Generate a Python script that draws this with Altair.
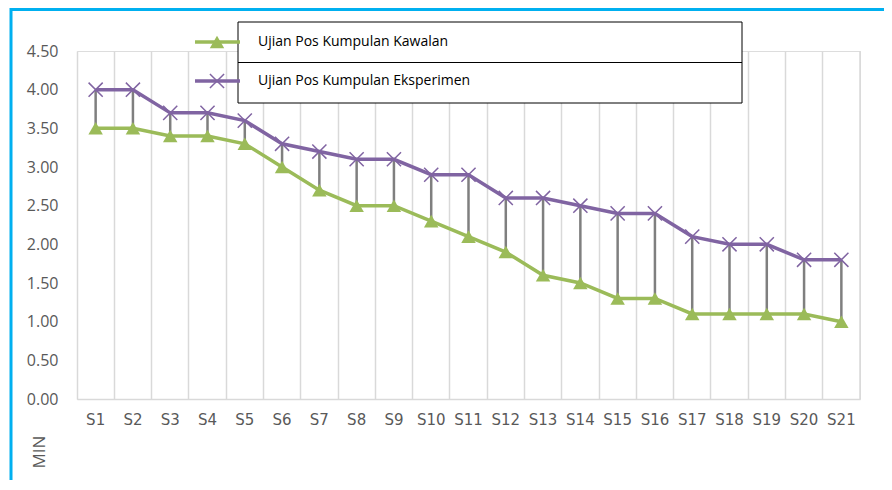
import altair as alt
import pandas as pd

students = [f"S{i}" for i in range(1, 22)]
kawalan = [3.5, 3.5, 3.4, 3.4, 3.3, 3.0, 2.7, 2.5, 2.5, 2.3, 2.1, 1.9, 1.6, 1.5, 1.3, 1.3, 1.1, 1.1, 1.1, 1.1, 1.0]
eksperimen = [4.0, 4.0, 3.7, 3.7, 3.6, 3.3, 3.2, 3.1, 3.1, 2.9, 2.9, 2.6, 2.6, 2.5, 2.4, 2.4, 2.1, 2.0, 2.0, 1.8, 1.8]
series_names = ["Ujian Pos Kumpulan Kawalan", "Ujian Pos Kumpulan Eksperimen"]
y_ticks = [0, 0.5, 1.0, 1.5, 2.0, 2.5, 3.0, 3.5, 4.0, 4.5]

GREEN = "#9BBB59"
PURPLE = "#8064A2"
GREY_TXT = "#595959"
XPATH = "M-1,-1L1,1M1,-1L-1,1"

W, H = 783, 348

wide = pd.DataFrame({"s": students, "k": kawalan, "e": eksperimen})
long = pd.concat([
    pd.DataFrame({"s": students, "v": kawalan, "series": series_names[0]}),
    pd.DataFrame({"s": students, "v": eksperimen, "series": series_names[1]}),
])

XAX = alt.Axis(labelAngle=0, grid=True, bandPosition=0, gridColor="#D9D9D9",
               gridWidth=1.5, ticks=False, tickSize=0, domainColor="#D9D9D9",
               domainWidth=1.5, labelColor=GREY_TXT, labelFont="DejaVu Sans",
               labelFontSize=15, labelPadding=13, labelOverlap=False)
XSC = alt.Scale(type="band", paddingInner=0, paddingOuter=0)
YSC = alt.Scale(domain=[0, 4.5], nice=False, zero=True)
YAX = alt.Axis(values=y_ticks, format=".2f", grid=False, domain=False, ticks=False,
               tickSize=0, labelColor=GREY_TXT, labelFont="Open Sans", labelFontSize=16,
               labelPadding=19, labelOverlap=False, labelFlush=False)


def X():
    return alt.X("s:N", sort=students, title=None, scale=XSC, axis=XAX)


def Y(field):
    return alt.Y(field, title=None, scale=YSC, axis=YAX)


hilo = alt.Chart(wide).mark_rule(color="#7F7F7F", strokeWidth=2.5).encode(
    x=X(), y=Y("k:Q"), y2="e:Q")

color_scale = alt.Scale(domain=series_names, range=[GREEN, PURPLE])

lines = alt.Chart(long).mark_line(strokeWidth=3.5).encode(
    x=X(), y=Y("v:Q"),
    color=alt.Color("series:N", scale=color_scale, legend=None),
    detail="series:N",
)

tri = alt.Chart(long[long.series == series_names[0]]).mark_point(
    shape="triangle-up", filled=True, size=210, color=GREEN, opacity=1).encode(
    x=X(), y=Y("v:Q"))

crs = alt.Chart(long[long.series == series_names[1]]).mark_point(
    shape=XPATH, filled=False, size=200, color=PURPLE, strokeWidth=1.5, opacity=1).encode(
    x=X(), y=Y("v:Q"))

one = pd.DataFrame({"a": [0]})

right_edge = alt.Chart(one).mark_rule(color="#D9D9D9", strokeWidth=1.5).encode(
    x=alt.value(W), y=alt.value(0), y2=alt.value(H))

# legend box
box = alt.Chart(one).mark_rect(fill="white", stroke="black", strokeWidth=1).encode(
    x=alt.value(161), x2=alt.value(665), y=alt.value(-29), y2=alt.value(52))
divider = alt.Chart(one).mark_rule(color="black", strokeWidth=1).encode(
    x=alt.value(161), x2=alt.value(665), y=alt.value(11.5))

legend_layers = []
for i, (name, col) in enumerate(zip(series_names, [GREEN, PURPLE])):
    ly = -9 + 39 * i
    legend_layers.append(alt.Chart(one).mark_rule(color=col, strokeWidth=3.5).encode(
        x=alt.value(118), x2=alt.value(163), y=alt.value(ly)))
    if i == 0:
        legend_layers.append(alt.Chart(one).mark_point(
            shape="triangle-up", filled=True, size=210, color=col, opacity=1).encode(
            x=alt.value(140), y=alt.value(ly)))
    else:
        legend_layers.append(alt.Chart(one).mark_point(
            shape=XPATH, filled=False, size=200, color=col, strokeWidth=1.5, opacity=1).encode(
            x=alt.value(140), y=alt.value(ly)))
    legend_layers.append(alt.Chart(one).mark_text(
        align="left", baseline="middle", font="Open Sans", fontSize=14, color="black").encode(
        x=alt.value(181), y=alt.value(ly), text=alt.value(name)))

min_title = alt.Chart(one).mark_text(
    angle=270, align="center", baseline="middle", font="Open Sans", fontSize=17,
    color=GREY_TXT).encode(x=alt.value(-37), y=alt.value(401), text=alt.value("MIN"))

BLUE = "#00B0F0"
border_top = alt.Chart(one).mark_rule(color=BLUE, strokeWidth=3).encode(
    x=alt.value(-67), x2=alt.value(W + 30), y=alt.value(-41.5))
border_left = alt.Chart(one).mark_rule(color=BLUE, strokeWidth=3).encode(
    x=alt.value(-66), y=alt.value(-43), y2=alt.value(H + 90))

chart = alt.layer(
    right_edge, hilo, lines, tri, crs, box, divider, *legend_layers,
    min_title, border_top, border_left,
).properties(
    width=W, height=H,
    autosize=alt.AutoSizeParams(type="none"),
    padding={"left": 69, "top": 43, "right": 24, "bottom": 81},
).configure_view(stroke=None).configure_axisY(labelOverlap=False).configure(background="white")

chart.save("out.html", embed_options={"renderer": "svg", "actions": False})
